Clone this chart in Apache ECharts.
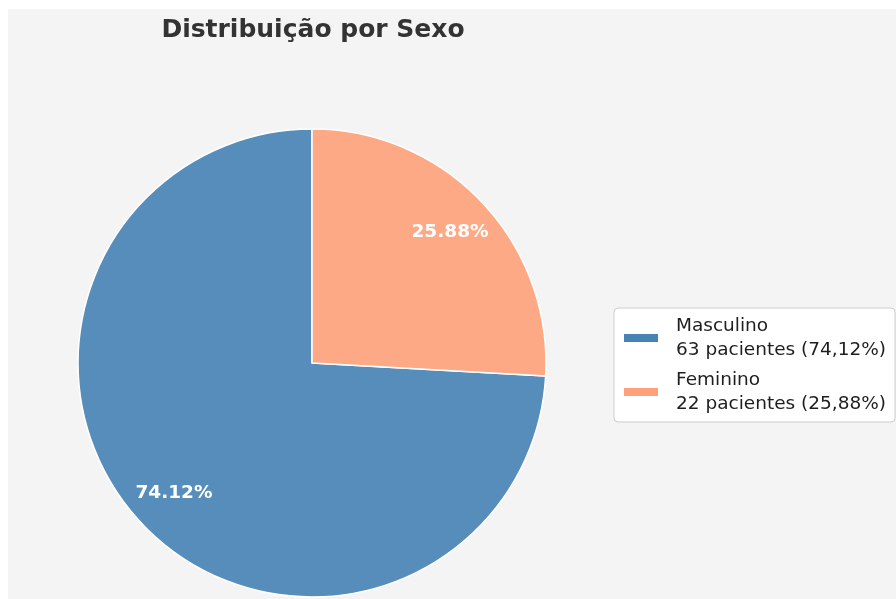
<!DOCTYPE html>
<html>
<head>
<meta charset="utf-8">
<script src="https://cdn.jsdelivr.net/npm/echarts@6/dist/echarts.min.js"></script>
<style>
  html, body { margin: 0; padding: 0; background: #ffffff; }
  #chart { position: absolute; left: 8px; top: 9px; width: 888px; height: 590px; }
</style>
</head>
<body>
<div id="chart"></div>
<script>
// data
const categories = ['Masculino', 'Feminino']
const counts = [63, 22]
const percents = ['74,12%', '25,88%']
const pieColors = ['#568dba', '#fea986']
const legendColors = ['#4682b4', '#ffa07a']

const total = counts.reduce((a, b) => a + b, 0)
const pieData = categories.map((name, i) => ({
  name: name,
  value: counts[i],
  itemStyle: { color: pieColors[i] }
}))

const chart = echarts.init(document.getElementById('chart'))
const option = {
  backgroundColor: '#f4f4f4',
  animation: false,
  title: {
    text: 'Distribuição por Sexo',
    left: 300,
    textAlign: 'center',
    top: 4,
    textStyle: {
      fontFamily: 'DejaVu Sans',
      fontWeight: 'bold',
      fontSize: 25,
      color: '#333333'
    }
  },
  legend: {
    orient: 'vertical',
    left: 606,
    top: 299,
    data: categories.map((name, i) => ({
      name: name,
      itemStyle: { color: legendColors[i] }
    })),
    icon: 'rect',
    itemWidth: 36,
    itemHeight: 10,
    itemGap: 6,
    padding: [6, 9, 6, 8],
    backgroundColor: '#ffffff',
    borderColor: '#cccccc',
    borderWidth: 1,
    borderRadius: 4,
    selectedMode: false,
    formatter: name => {
      const i = categories.indexOf(name)
      return name + '\n' + counts[i] + ' pacientes (' + percents[i] + ')'
    },
    textStyle: {
      fontFamily: 'DejaVu Sans',
      fontSize: 18.5,
      lineHeight: 24,
      color: '#1e1e1e',
      padding: [0, 0, 0, 12]
    }
  },
  series: [
    {
      type: 'pie',
      center: [304, 354],
      radius: [0, 234],
      startAngle: 90,
      clockwise: false,
      silent: true,
      data: pieData,
      label: { show: false },
      labelLine: { show: false },
      itemStyle: { borderColor: '#ffffff', borderWidth: 1.5 }
    },
    {
      // transparent overlay so the percent labels sit at 0.8 of the radius
      type: 'pie',
      center: [304, 354],
      radius: [140, 234],
      startAngle: 90,
      clockwise: false,
      silent: true,
      data: pieData.map(d => ({ name: d.name, value: d.value })),
      itemStyle: { color: 'rgba(0,0,0,0)' },
      labelLine: { show: false },
      label: {
        show: true,
        position: 'inside',
        formatter: p => (p.value / total * 100).toFixed(2) + '%',
        fontFamily: 'DejaVu Sans',
        fontWeight: 'bold',
        fontSize: 18.5,
        color: '#ffffff'
      }
    }
  ]
}
chart.setOption(option)
</script>
</body>
</html>
